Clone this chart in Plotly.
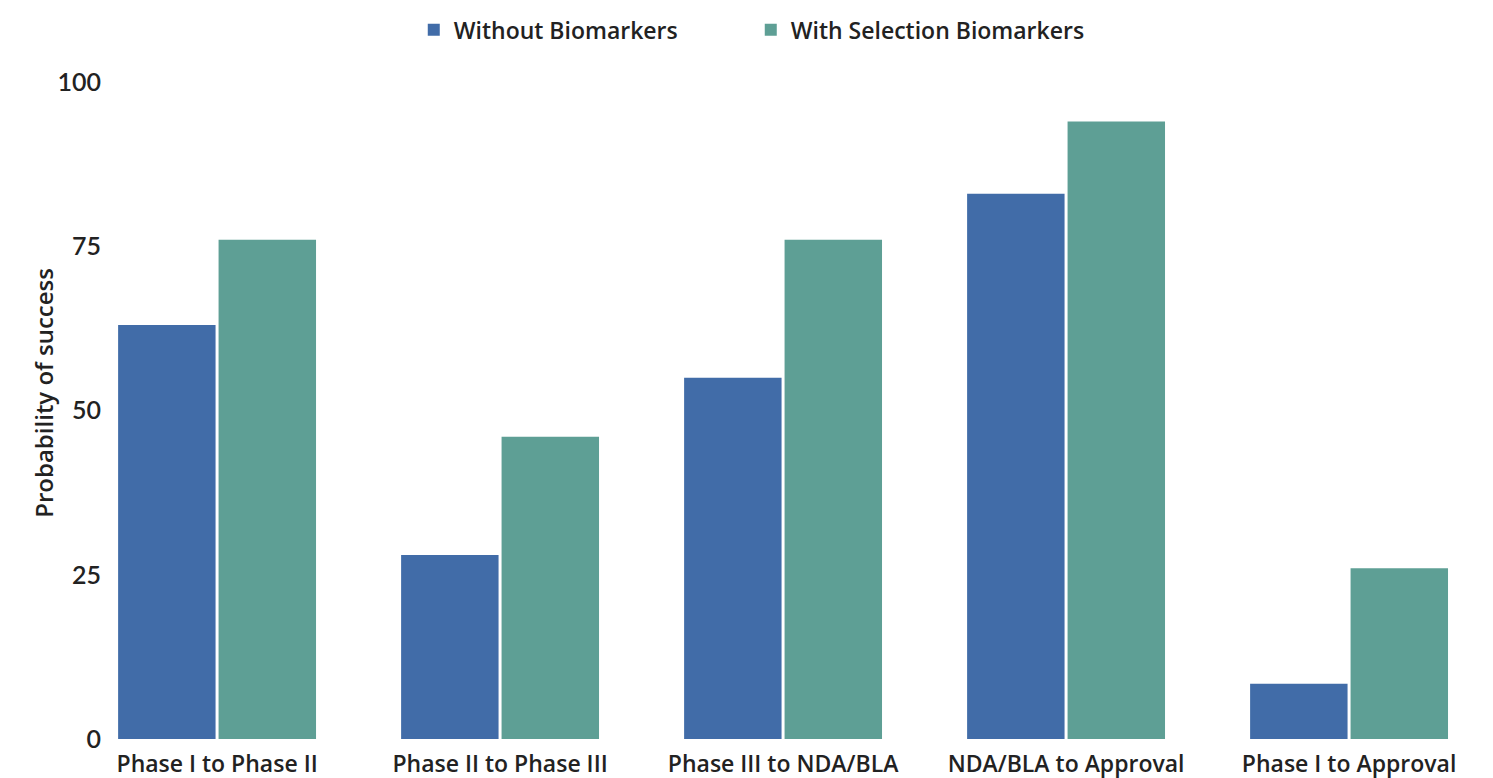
import plotly.graph_objects as go

categories = ["Phase I to Phase II", "Phase II to Phase III", "Phase III to NDA/BLA",
              "NDA/BLA to Approval", "Phase I to Approval"]
without_biomarkers = [63, 28, 55, 83, 8.4]
with_selection = [76, 46, 76, 94, 26]
y_ticks = [0, 25, 50, 75, 100]

BLUE = "#416CA8"
TEAL = "#5E9F95"

fig = go.Figure()
fig.add_trace(go.Bar(name="Without Biomarkers", x=categories, y=without_biomarkers,
                     marker=dict(color=BLUE, line=dict(width=0))))
fig.add_trace(go.Bar(name="With Selection Biomarkers", x=categories, y=with_selection,
                     marker=dict(color=TEAL, line=dict(width=0))))

fig.update_layout(
    width=1493, height=778,
    margin=dict(l=97, r=11, t=74, b=47, autoexpand=False),
    paper_bgcolor="white", plot_bgcolor="white",
    barmode="group", bargap=0.29, bargroupgap=0.03,
    font=dict(family="Lato, Open Sans, sans-serif", color="#222222"),
    legend=dict(orientation="h", xref="container", yref="container",
                x=0.4975, xanchor="center", y=0.972, yanchor="middle",
                font=dict(size=23, family="Open Sans", weight=600),
                itemwidth=30, traceorder="normal", entrywidth=292),
    showlegend=True,
    annotations=[dict(text="Probability of success", textangle=-90,
                      xref="paper", yref="paper", x=0, y=0.527,
                      xanchor="center", yanchor="middle", xshift=-61,
                      showarrow=False,
                      font=dict(size=24, family="Open Sans", weight=600, color="#222222"))],
)
fig.update_xaxes(range=[-0.396, 4.498], showgrid=False, showline=False, zeroline=False,
                 tickfont=dict(size=23, family="Open Sans", weight=600, color="#222222"),
                 ticks="", ticklabelstandoff=9, automargin=False)
fig.update_yaxes(range=[0, 100], tickvals=y_ticks, showgrid=False, showline=False,
                 zeroline=False, ticks="", automargin=False, ticklabelstandoff=3,
                 tickfont=dict(size=25, family="Lato", weight=600, color="#222222"))

fig.write_html("out.html")
